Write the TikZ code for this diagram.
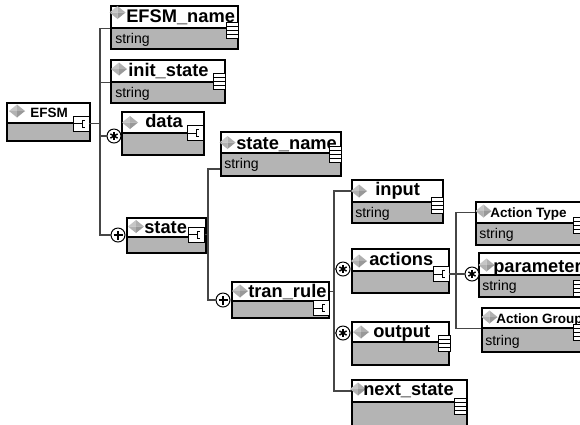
\documentclass[tikz,border=0pt]{standalone}
\usepackage{fontspec}
\setmainfont{Liberation Sans}
\usetikzlibrary{fit}
\newlength{\pxu}\setlength{\pxu}{0.025cm}
\definecolor{bodygray}{RGB}{180,180,180}
\definecolor{wiregray}{RGB}{70,70,70}

\begin{document}
\begin{tikzpicture}[
  x=0.025cm, y=-0.025cm,
  hdr/.style={draw, fill=white, inner sep=0pt, line width=0.8pt},
  bdy/.style={draw, fill=bodygray, inner sep=0pt, line width=0.8pt},
  ttl/.style={anchor=base west, inner sep=0pt, font=\fontsize{13}{13}\selectfont\bfseries},
  ttlsm/.style={ttl, font=\fontsize{9.6}{10}\selectfont\bfseries},
  typ/.style={anchor=base west, inner sep=0pt, font=\fontsize{10}{10}\selectfont},
  seq/.style={draw, fill=white, inner sep=0pt, line width=0.6pt,
    minimum width=16\pxu, minimum height=15\pxu,
    path picture={
      \draw[line width=0.6pt] (path picture bounding box.west) -- ++(9\pxu,0);
      \draw[line width=0.6pt] ([xshift=11.5\pxu,yshift=3.5\pxu]path picture bounding box.west)
        -| ([xshift=9\pxu,yshift=-3.5\pxu]path picture bounding box.west) -- ++(2.5\pxu,0);
    }},
  simp/.style={draw, fill=white, inner sep=0pt, line width=0.6pt,
    minimum width=12\pxu, minimum height=16\pxu,
    path picture={
      \foreach \d in {-4,0,4}
        \draw[line width=0.6pt] ([yshift=\d\pxu]path picture bounding box.west)
          -- ([yshift=\d\pxu]path picture bounding box.east);
    }},
  occ/.style={circle, draw, fill=white, inner sep=0pt, line width=0.7pt, minimum size=14\pxu},
  many/.style={occ, path picture={
      \foreach \a in {90,30,150}
        \draw[line width=1pt] ([shift={(\a:4.2\pxu)}]path picture bounding box.center)
          -- ([shift={(\a+180:4.2\pxu)}]path picture bounding box.center);
    }},
  need/.style={occ, path picture={
      \draw[line width=0.9pt] ([xshift=-4.5\pxu]path picture bounding box.center) -- ++(9\pxu,0);
      \draw[line width=0.9pt] ([yshift=-4.5\pxu]path picture bounding box.center) -- ++(0,9\pxu);
    }},
  wire/.style={draw=wiregray, line width=0.9pt},
  gem/.pic={
    \fill[gray!45] (-8,0) -- (0,-6.5) -- (0,0) -- cycle;
    \fill[gray!62] (8,0) -- (0,-6.5) -- (0,0) -- cycle;
    \fill[gray!60] (-8,0) -- (0,6.5) -- (0,0) -- cycle;
    \fill[gray!80] (8,0) -- (0,6.5) -- (0,0) -- cycle;
  }
]
\useasboundingbox (0,0) rectangle (580,424);
\clip (0,0) rectangle (580,424);

% root element
\node[hdr, fit={(7,103) (90,123)}] (efsm_h) {};
\node[bdy, fit={(7,123) (90,141)}] (efsm_b) {};
\pic at (17,111) {gem};
\node[ttlsm] (efsm_t) at (30,117) {EFSM};
\node[seq] (efsm_i) at (81,123.5) {};

% children of EFSM
\node[hdr, fit={(111,6) (238,28)}] (ename_h) {};
\node[bdy, fit={(111,28) (238,49)}] (ename_b) {};
\pic at (117.5,12.5) {gem};
\node[ttl] (ename_t) at (126,22) {EFSM\_name};
\node[typ] (ename_y) at (115,43) {string};
\node[simp] (ename_i) at (232,30.5) {};

\node[hdr, fit={(111,60) (225,82)}] (init_h) {};
\node[bdy, fit={(111,82) (225,103)}] (init_b) {};
\pic at (119,69) {gem};
\node[ttl] (init_t) at (128,76) {init\_state};
\node[typ] (init_y) at (115,97) {string};
\node[simp] (init_i) at (219.5,81.5) {};

\node[hdr, fit={(122,112) (204,133)}] (data_h) {};
\node[bdy, fit={(122,133) (204,155)}] (data_b) {};
\pic at (130,122.5) {gem};
\node[ttl] (data_t) at (145,127) {data};
\node[seq] (data_i) at (195.5,133) {};
\node[many] (data_c) at (114,136) {};

\node[hdr, fit={(127,218) (206,237)}] (state_h) {};
\node[bdy, fit={(127,237) (206,253)}] (state_b) {};
\pic at (136,226.5) {gem};
\node[ttl] (state_t) at (144,233) {state};
\node[seq] (state_i) at (196.5,234.5) {};
\node[need] (state_c) at (118,235) {};

% children of state
\node[hdr, fit={(221,132) (341,153)}] (sname_h) {};
\node[bdy, fit={(221,153) (341,176)}] (sname_b) {};
\pic at (227.5,142.5) {gem};
\node[ttl] (sname_t) at (236,149) {state\_name};
\node[typ] (sname_y) at (224,168) {string};
\node[simp] (sname_i) at (335,154.5) {};

\node[hdr, fit={(232,282) (329,301)}] (trule_h) {};
\node[bdy, fit={(232,301) (329,318)}] (trule_b) {};
\pic at (240,291) {gem};
\node[ttl] (trule_t) at (248,297) {tran\_rule};
\node[seq] (trule_i) at (321,308) {};
\node[need] (trule_c) at (223,300) {};

% children of tran_rule
\node[hdr, fit={(352,180) (443,202)}] (input_h) {};
\node[bdy, fit={(352,202) (443,223)}] (input_b) {};
\pic at (359,191) {gem};
\node[ttl] (input_t) at (375,195) {input};
\node[typ] (input_y) at (355,217) {string};
\node[simp] (input_i) at (437.5,205.5) {};

\node[hdr, fit={(352,249) (449,271)}] (acts_h) {};
\node[bdy, fit={(352,271) (449,293)}] (acts_b) {};
\pic at (359,261) {gem};
\node[ttl] (acts_t) at (369,265) {actions};
\node[seq] (acts_i) at (441,274) {};
\node[many] (acts_c) at (343,269) {};

\node[hdr, fit={(352,322) (449,342)}] (out_h) {};
\node[bdy, fit={(352,342) (449,365)}] (out_b) {};
\pic at (361,332) {gem};
\node[ttl] (out_t) at (373,337) {output};
\node[simp] (out_i) at (444,343) {};
\node[many] (out_c) at (343,333) {};

\node[hdr, fit={(352,380) (467,402)}] (next_h) {};
\node[bdy, fit={(352,402) (467,430)}] (next_b) {};
\pic at (358,389) {gem};
\node[ttl] (next_t) at (363,395) {next\_state};
\node[simp] (next_i) at (460,406.5) {};

% children of actions
\node[hdr, fit={(476,202) (600,223)}] (atype_h) {};
\node[bdy, fit={(476,223) (600,245)}] (atype_b) {};
\pic at (483.5,211) {gem};
\node[ttlsm] (atype_t) at (490,217) {Action Type};
\node[typ] (atype_y) at (479,238) {string};
\node[simp] (atype_i) at (579,225) {};

\node[hdr, fit={(479,253) (600,275)}] (param_h) {};
\node[bdy, fit={(479,275) (600,297)}] (param_b) {};
\pic at (486.5,265) {gem};
\node[ttl] (param_t) at (493,272) {parameter};
\node[typ] (param_y) at (482,290) {string};
\node[simp] (param_i) at (579,288) {};
\node[many] (param_c) at (472,274) {};

\node[hdr, fit={(482,308) (600,328)}] (agroup_h) {};
\node[bdy, fit={(482,328) (600,352)}] (agroup_b) {};
\pic at (489.5,317) {gem};
\node[ttlsm] (agroup_t) at (496,323) {Action Group};
\node[typ] (agroup_y) at (485,345) {string};
\node[simp] (agroup_i) at (579,332) {};

% connectors
\coordinate (t1) at (100,0);
\coordinate (t2) at (208,0);
\coordinate (t3) at (334,0);
\coordinate (t4) at (456,0);
\draw[wire] (ename_h.south west) -| (t1 |- state_c) -- (state_c);
\draw[wire] (init_h.south west) -- (init_h.south west -| t1);
\draw[wire] (efsm_i) -- (efsm_i -| t1);
\draw[wire] (data_c) -- (data_c -| t1);
\draw[wire] ([yshift=-4.5\pxu]sname_b.west) -| (t2 |- trule_c) -- (trule_c);
\draw[wire] (state_i) -- (state_i -| t2);
\draw[wire] (input_h.west) -| (t3 |- next_h.west) -- (next_h.west);
\draw[wire] (trule_h.east) -- (trule_h.east -| t3);
\draw[wire] (acts_c) -- (acts_c -| t3);
\draw[wire] (out_c) -- (out_c -| t3);
\draw[wire] (atype_h.west) -| (t4 |- agroup_h.south west) -- (agroup_h.south west);
\draw[wire] (acts_i) -- (param_c);
\end{tikzpicture}
\end{document}
